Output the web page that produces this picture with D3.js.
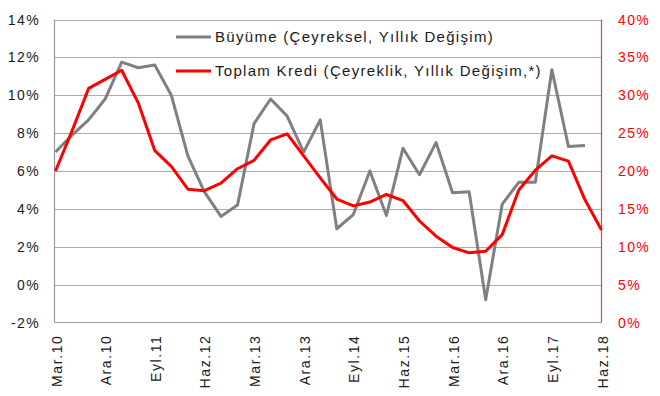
<!DOCTYPE html>
<html>
<head lang="tr">
  <meta charset="utf-8">
  <title>Büyüme ve Kredi</title>
  <script src="https://d3js.org/d3.v7.min.js" charset="utf-8"></script>
  <style>
    body { margin: 0; background: #fff; }
    text { font-family: "Liberation Sans", Arial, sans-serif; }
  </style>
</head>
<body>
  <script>
    // quarters, Mar.10 .. Haz.18
    var quarters = ["Mar.10","Haz.10","Eyl.10","Ara.10","Mar.11","Haz.11","Eyl.11","Ara.11",
      "Mar.12","Haz.12","Eyl.12","Ara.12","Mar.13","Haz.13","Eyl.13","Ara.13",
      "Mar.14","Haz.14","Eyl.14","Ara.14","Mar.15","Haz.15","Eyl.15","Ara.15",
      "Mar.16","Haz.16","Eyl.16","Ara.16","Mar.17","Haz.17","Eyl.17","Ara.17",
      "Mar.18","Haz.18"];

    // GDP growth, left axis (%)
    var growth = [7.0, 7.9, 8.7, 9.8, 11.75, 11.45, 11.6, 10.0,
      6.8, 4.9, 3.6, 4.2, 8.5, 9.8, 8.9, 7.0,
      8.7, 2.95, 3.7, 6.0, 3.65, 7.2, 5.8, 7.5,
      4.85, 4.9, -0.8, 4.25, 5.4, 5.4, 11.35, 7.3,
      7.35, null];

    // total credit growth, right axis (%)
    var credit = [20.0, 25.3, 30.9, 32.1, 33.3, 29.0, 22.7, 20.6,
      17.6, 17.4, 18.4, 20.3, 21.4, 24.1, 24.9, 22.0,
      19.1, 16.3, 15.4, 15.9, 16.9, 16.1, 13.4, 11.4,
      9.9, 9.2, 9.4, 11.6, 17.5, 20.1, 22.0, 21.3,
      16.2, 12.2];

    var leftTicks = [-2, 0, 2, 4, 6, 8, 10, 12, 14];
    var rightTicks = [0, 5, 10, 15, 20, 25, 30, 35, 40];
    var xLabelEvery = 3;

    var seriesNames = ["Büyüme (Çeyreksel, Yıllık Değişim)",
      "Toplam Kredi (Çeyreklik, Yıllık Değişim,*)"];

    var width = 660, height = 396;
    var margin = {top: 19.5, right: 58.5, bottom: 73.5, left: 54.5};
    var x0 = margin.left, x1 = width - margin.right;
    var y0 = height - margin.bottom, y1 = margin.top;

    var svg = d3.select("body").append("svg")
      .attr("width", width)
      .attr("height", height);

    var x = d3.scaleLinear().domain([0, quarters.length - 1]).range([x0 + 1, x1]);
    var yL = d3.scaleLinear().domain([-2, 14]).range([y0, y1]);
    var yR = d3.scaleLinear().domain([0, 40]).range([y0, y1]);

    // gridlines
    svg.append("g")
      .selectAll("line")
      .data(leftTicks.slice(1))
      .enter().append("line")
        .attr("x1", x0).attr("x2", x1)
        .attr("y1", function(d) { return Math.round(yL(d)) + 0.5; })
        .attr("y2", function(d) { return Math.round(yL(d)) + 0.5; })
        .style("stroke", "#ababab")
        .style("stroke-width", 1);

    // frame
    svg.append("line").attr("x1", x0).attr("x2", x0).attr("y1", y1).attr("y2", y0)
      .style("stroke", "#999").style("stroke-width", 1.2);
    svg.append("line").attr("x1", x0).attr("x2", x1).attr("y1", y0).attr("y2", y0)
      .style("stroke", "#999").style("stroke-width", 1.2);
    svg.append("line").attr("x1", x1).attr("x2", x1).attr("y1", y1).attr("y2", y0)
      .style("stroke", "#e04848").style("stroke-width", 1.2);

    // left axis labels
    svg.append("g")
      .selectAll("text")
      .data(leftTicks)
      .enter().append("text")
        .attr("x", 40)
        .attr("y", function(d) { return yL(d); })
        .attr("dy", "0.36em")
        .attr("text-anchor", "end")
        .style("font-size", "14px")
        .style("letter-spacing", "1.4px")
        .style("fill", "#1a1a1a")
        .text(function(d) { return d + "%"; });

    // right axis labels
    svg.append("g")
      .selectAll("text")
      .data(rightTicks)
      .enter().append("text")
        .attr("x", 618)
        .attr("y", function(d) { return yR(d); })
        .attr("dy", "0.36em")
        .style("font-size", "14px")
        .style("letter-spacing", "1.4px")
        .style("fill", "#ff0000")
        .text(function(d) { return d + "%"; });

    // x labels, rotated
    svg.append("g")
      .selectAll("text")
      .data(quarters.filter(function(d, i) { return i % xLabelEvery === 0; }))
      .enter().append("text")
        .attr("transform", function(d) {
          return "translate(" + (x(quarters.indexOf(d)) + 1) + "," + (y0 + 12) + ") rotate(-90)";
        })
        .attr("dy", "0.36em")
        .attr("text-anchor", "end")
        .style("font-size", "14px")
        .style("letter-spacing", "1.6px")
        .style("fill", "#1a1a1a")
        .text(function(d) { return d; });

    var lineL = d3.line()
      .defined(function(d) { return d != null; })
      .x(function(d, i) { return x(i); })
      .y(function(d) { return yL(d); });
    var lineR = d3.line()
      .x(function(d, i) { return x(i); })
      .y(function(d) { return yR(d); });

    svg.append("path")
      .attr("d", lineL(growth))
      .style("fill", "none")
      .style("stroke", "#808080")
      .style("stroke-width", 3)
      .style("stroke-linejoin", "round");

    svg.append("path")
      .attr("d", lineR(credit))
      .style("fill", "none")
      .style("stroke", "#ff0000")
      .style("stroke-width", 3)
      .style("stroke-linejoin", "round");

    // legend
    var legend = svg.append("g")
      .selectAll("g")
      .data(seriesNames)
      .enter().append("g")
        .attr("transform", function(d, i) { return "translate(176," + (37 + i * 34) + ")"; });
    legend.append("line")
      .attr("x1", 0).attr("x2", 35)
      .style("stroke", function(d, i) { return i === 0 ? "#808080" : "#ff0000"; })
      .style("stroke-width", 3);
    legend.append("text")
      .attr("x", 39)
      .attr("dy", "0.36em")
      .style("font-size", "15px")
      .style("letter-spacing", "1.3px")
      .style("fill", "#1a1a1a")
      .text(function(d) { return d; });
  </script>
</body>
</html>
